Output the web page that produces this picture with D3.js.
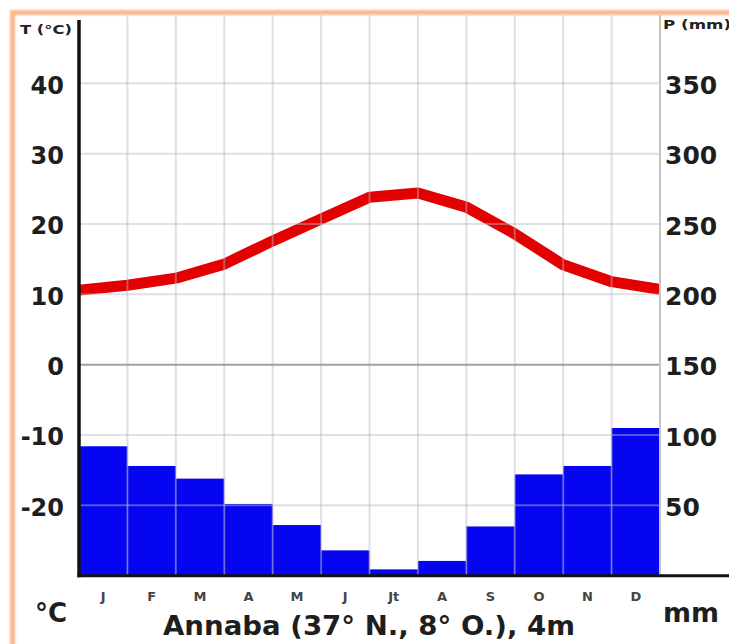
<!DOCTYPE html>
<html>
<head>
<meta charset="utf-8">
<script src="https://cdn.jsdelivr.net/npm/d3@7/dist/d3.min.js"></script>
<style>
  html, body { margin: 0; padding: 0; background: #fff; }
  svg { display: block; }
</style>
</head>
<body>
<script>
// ---- data ----
const months = ["J","F","M","A","M","J","Jt","A","S","O","N","D"];
// precipitation (mm) per month
const precip = [92, 78, 69, 51, 36, 18, 4.5, 10.5, 35, 72, 78, 105];
// temperature (°C) read at month boundaries (13 points, Jan start .. Dec end)
const tempPoints = [10.6, 11.3, 12.3, 14.3, 17.6, 20.7, 23.8, 24.4, 22.4, 18.6, 14.2, 11.8, 10.7];
const tTicks = [-20, -10, 0, 10, 20, 30, 40];
const pTicks = [50, 100, 150, 200, 250, 300, 350];

(function () {
const W = 729, H = 644;
const mLeft = 79, mRight = 660, mTop = 13, mBottom = 575.7;

const svg = d3.select("body").append("svg").attr("width", W).attr("height", H);

const defs = svg.append("defs");
defs.append("filter").attr("id", "soft").attr("x", "-5%").attr("y", "-5%").attr("width", "110%").attr("height", "110%")
  .append("feGaussianBlur").attr("stdDeviation", 0.9);
defs.append("filter").attr("id", "soft2")
  .append("feGaussianBlur").attr("stdDeviation", 0.5);

const x = d3.scaleLinear().domain([0, 12]).range([mLeft, mRight]);
const xb = d3.scaleBand().domain(d3.range(12)).range([mLeft, mRight]).padding(0);
const yT = d3.scaleLinear().domain([-30, 50]).range([mBottom, mTop]);
const yP = d3.scaleLinear().domain([0, 400]).range([mBottom, mTop]);

// bars
svg.append("g").selectAll("rect").data(precip).join("rect")
  .attr("x", (d, i) => xb(i))
  .attr("width", xb.bandwidth())
  .attr("y", d => yP(d))
  .attr("height", d => yP(0) - yP(d))
  .attr("fill", "#0505f2");

// temperature line
const line = d3.line().x((d, i) => x(i)).y(d => yT(d));
svg.append("path").datum(tempPoints)
  .attr("d", line)
  .attr("fill", "none")
  .attr("stroke", "#e30000")
  .attr("stroke-width", 11)
  .attr("stroke-linejoin", "round")
  .attr("filter", "url(#soft2)");

// grid (drawn on top, translucent)
const grid = svg.append("g").attr("stroke-width", 2);
grid.selectAll("line.v").data(d3.range(1, 12)).join("line")
  .attr("class", "v")
  .attr("x1", d => x(d)).attr("x2", d => x(d))
  .attr("y1", 15).attr("y2", mBottom)
  .attr("stroke", "rgb(185,185,200)").attr("stroke-opacity", 0.45);
grid.selectAll("line.h").data(tTicks).join("line")
  .attr("class", "h")
  .attr("x1", mLeft).attr("x2", mRight)
  .attr("y1", d => yT(d)).attr("y2", d => yT(d))
  .attr("stroke-opacity", d => d === 0 ? 0.9 : 0.45)
  .attr("stroke", d => d === 0 ? "rgb(150,150,150)" : "rgb(185,185,200)");
// right axis line
svg.append("line").attr("x1", mRight).attr("x2", mRight).attr("y1", 15).attr("y2", mBottom)
  .attr("stroke", "#c4c4c4").attr("stroke-width", 2);

// left axis line
svg.append("line").attr("x1", mLeft).attr("x2", mLeft).attr("y1", 20).attr("y2", mBottom + 1.5)
  .attr("stroke", "#111").attr("stroke-width", 3.5);
// bottom axis line
svg.append("line").attr("x1", mLeft - 1.5).attr("x2", W).attr("y1", mBottom).attr("y2", mBottom)
  .attr("stroke", "#111").attr("stroke-width", 3);

const font = "'DejaVu Sans', Verdana, sans-serif";

// left axis labels
const gl = svg.append("g").attr("transform", `translate(${mLeft},2)`)
  .call(d3.axisLeft(yT).tickValues(tTicks).tickSize(0).tickPadding(15).tickFormat(d => String(d)));
gl.select(".domain").remove();
gl.selectAll("text").attr("font-family", font).attr("font-weight", "bold").attr("font-size", 24).attr("fill", "#1e1e1e");

// right axis labels
const gr = svg.append("g").attr("transform", `translate(${mRight},2)`)
  .call(d3.axisRight(yP).tickValues(pTicks).tickSize(0).tickPadding(5).tickFormat(d => String(d)));
gr.select(".domain").remove();
gr.selectAll("text").attr("font-family", font).attr("font-weight", "bold").attr("font-size", 25).attr("fill", "#1e1e1e");

// month labels
const gb = svg.append("g").attr("transform", `translate(0,${mBottom})`)
  .call(d3.axisBottom(xb).tickSize(0).tickPadding(16).tickFormat(i => months[i]));
gb.select(".domain").remove();
gb.selectAll("text").attr("font-family", font).attr("font-weight", "bold").attr("font-size", 13).attr("fill", "#444");

// texts
svg.append("text").attr("x", 20).attr("y", 34).text("T (°C)")
  .attr("font-family", font).attr("font-weight", "bold").attr("font-size", 12).attr("fill", "#222")
  .attr("textLength", 52).attr("lengthAdjust", "spacingAndGlyphs");
svg.append("text").attr("x", 663).attr("y", 29).text("P (mm)")
  .attr("font-family", font).attr("font-weight", "bold").attr("font-size", 12).attr("fill", "#222")
  .attr("textLength", 68).attr("lengthAdjust", "spacingAndGlyphs");
svg.append("text").attr("x", 35).attr("y", 622).text("°C")
  .attr("font-family", font).attr("font-weight", "bold").attr("font-size", 26).attr("fill", "#1e1e1e");
svg.append("text").attr("x", 663).attr("y", 622).text("mm")
  .attr("font-family", font).attr("font-weight", "bold").attr("font-size", 26).attr("fill", "#1e1e1e")
  .attr("textLength", 56).attr("lengthAdjust", "spacingAndGlyphs");
svg.append("text").attr("x", 163).attr("y", 635).text("Annaba (37° N., 8° O.), 4m")
  .attr("font-family", font).attr("font-weight", "bold").attr("font-size", 26).attr("fill", "#1e1e1e")
  .attr("textLength", 412).attr("lengthAdjust", "spacingAndGlyphs");

// frame border
svg.append("rect").attr("x", 12.5).attr("y", 12.5).attr("width", 900).attr("height", 900)
  .attr("fill", "none").attr("stroke", "#fbb78e").attr("stroke-width", 5).attr("filter", "url(#soft)");
})();
</script>
</body>
</html>
